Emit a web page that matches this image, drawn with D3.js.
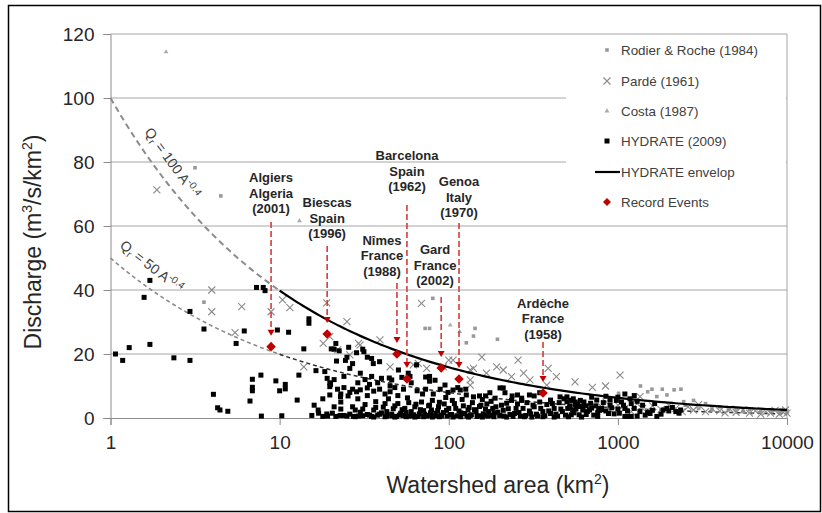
<!DOCTYPE html>
<html><head><meta charset="utf-8">
<script src="https://cdnjs.cloudflare.com/ajax/libs/d3/7.8.5/d3.min.js"></script>
<style>
body{margin:0;background:#fff;}
svg{display:block;font-family:"Liberation Sans",Arial,sans-serif;}
</style></head>
<body><svg id="c" width="822" height="513"></svg>
<script>
// ---------- data ----------
const xTicks = [1, 10, 100, 1000, 10000];
const yTicks = [0, 20, 40, 60, 80, 100, 120];
const curveCoef = [100, 50];
const curveExp = -0.4;

const hydrate = [
 [1.07,20],[1.18,18],[1.29,22],[1.58,37.7],[1.71,23],[1.71,43],[2.37,18.8],[2.95,18],[2.95,33.3],[3.57,27.8],
 [4.06,7.4],[4.44,2.5],[4.94,2.1],[4.3,3.2],[5.53,23.3],[6.18,27.2],[6.9,12.1],[6.9,8.5],[6.9,9.6],[6.68,5.3],
 [7.3,40.8],[8.0,40.8],[8.2,39.8],[7.75,13.4],[7.8,0.6],[9.5,11.6],[9.7,27.5],[10.3,0.7],[10,8.5],[10.8,9.1],
 [10.8,10.5],[11.3,26.8],[12.7,5.6],[13,13.4],[13.9,21.6],[14.9,29.6],[14.9,31],[16.4,14.8],[16.9,2.5],[18.5,14.5],
 [19.1,12.4],[19.8,9.8],[19.8,11],[19.8,7.2],[20.2,21.6],[21.5,23.3],[21.7,17.8],[22.9,6.7],[25.4,6.9],[25.6,22.1],
 [28.5,20.4],[28.5,8.2],[19.2,0.6],[22.8,0.8],[25,0.6],[27.3,0.5],[29.2,0.6],[19,1.25],
 [21,21.5],[22.5,21],[24.5,18],[25,19],[31,21.5],[31.5,20.7],[33,19],[35,18.6],[35.8,17],[39,17.6],[40,12.4],
 [44.5,12.5],[46,11.9],[50.4,15],[52.8,12.7],[57.6,14],[59,13],[64.5,16.6],[73,12.8],[77,13],[77,11.5],[83,11.8],
 [95,10.3],[106,8.75],[117,8.75],[127,7.2],[152,6.9],[165,6.9],[175,7.9],[201,9.4],[210,9.4],[215,7.9],[237,6.9],
 [255,7.2],[270,6.2],[300,7.2],[320,6.9],[345,7.9],[400,5.6],[455,6.6],[500,5.1],[560,5],[600,5.5],
 [20,10.5],[22,9],[24,9.5],[27,9],[30,8.8],[33,9.4],[36,8.4],[39,9],[42,7.5],[45,8.2],[48,9.5],[21,12],[23,7.5],
 [20.5,1.5],[21.5,0.5],[23,2.8],[24,0.8],[26,1.2],[27,3.5],[28,0.4],[30,1.8],[31,0.7],[32,4.2],[33,1.1],[35,0.5],
 [36,2.5],[37,5.1],[38,0.9],[40,1.6],[41,3.4],[43,0.6],[44,6],[46,1.2],[47,2.9],[49,0.5],[50,4.5],[52,1.5],[54,0.8],
 [55,3],[57,6.3],[58,0.6],[60,2],[62,1],[64,4.3],[66,0.5],[68,2.6],[70,7.5],[72,1.2],[74,0.6],[76,3.8],[78,1.6],
 [80,5.5],[83,0.7],[86,2.3],[88,4.9],[90,0.9],[93,1.7],[96,6.4],[98,0.6],[100,3],[104,1.1],[108,4.5],[112,0.7],
 [115,2.2],[120,5.8],[124,1.4],[128,0.6],[132,3.3],[136,1],[140,6.6],[145,2],[150,0.7],[155,4],[160,1.3],[165,2.8],
 [170,0.6],[178,5.2],[185,1.5],[190,3.5],[200,0.8],[210,2.4],[220,4.6],[230,1.1],[240,0.5],[250,3],[260,1.7],
 [270,5.5],[285,0.8],[300,2.2],[315,4],[330,1.2],[350,3],[370,0.7],[390,2.2],[410,4.5],[430,1.2],[460,2.8],
 [490,0.9],[520,3.5],[550,1.6],[580,4.2],[620,2.5],[650,1.1],[700,3.1],[760,1.8],[800,3],[850,2.2],[900,4],
 [950,1.3],[1000,2.8],[1050,5],[1100,3],[1150,0.5],[1200,0.5],[1300,0.6],[1500,1.7],[1550,1.4],[1700,0.5],
 [1850,2.5],[1950,3],[2200,2],[2350,2.5],[1000,6.5],[1100,7.5],[1200,4.5],[650,3.8],[680,2.5],
 [500,6.6],[520,3.8],[540,2.5],[560,4.2],[530,5.5],[620,3.7],[770,3],[800,2.6],[900,5.6],[1100,0.5],
 [15.5,0.8],[16,4],[17,1.5],[18,6],[18,0.5],[21,3.5],[23,5],[26,8],[28,2.5],[29,11],[24,13],[26,15.5],[30,14],
 [32,12],[34,10.5],[27,17],[29,6],
 [31,2.8],[33,7],[34,0.9],[35,13],[37,3.3],[38,11],[39,1.2],[42,4.5],[43,2],[45,10],[46,0.7],[48,3.8],[50,7],
 [51,0.9],[53,2.6],[54,9],[56,1.7],[58,4.8],[60,11],[61,0.7],[63,3.5],[65,8.5],[67,1.3],[69,5],[71,2.3],[73,9],
 [75,0.8],[77,4],[79,2.5],[81,7.5],[84,1.5],[87,3.5],[89,9],[91,0.6],[94,4.4],[97,2.4],[99,8],[102,1],[105,5.5],
 [110,3],[113,9.5],[118,1.6],[122,3.8],[126,9],[130,2.5],[134,0.8],[138,4.8],[142,2.6],[147,0.5],[152,3.6],
 [158,5.8],[162,0.9],[168,4.4],[172,2],[176,0.8],[182,3],[188,6.2],[195,1.8],[205,4],[212,0.6],[225,2.9],
 [235,5.5],[245,1.4],[255,4.4],[265,0.6],[275,3],[290,4.8],[305,1.3],[320,3.5],[335,0.6],[345,5],[360,2],
 [380,4.2],[400,1.4],[420,3],[440,0.6],[450,4.8],[470,2],[480,6],[505,3],[530,1],[545,6],[565,2.8],[590,1],
 [600,3.6],[630,5],[660,2],[690,4.6],[720,0.9],[740,3.8],[780,2.4],[820,4.8],[880,1.4],[920,3.2],[980,5.5],
 [1020,1.5],[1080,4],[1140,2.2],[1180,6],[1250,3],[1350,2],[1400,4],[1450,0.9],[1600,2.4],[1650,4.5],[1800,1.2],
 [2000,2.2],[2100,3.3],[2300,1.5],[1250,7],[1300,5.2],[700,6.5],[750,5.6],[850,6.8],
 [36,0.3],[42,0.4],[48,0.3],[56,0.4],[63,0.3],[71,0.4],[80,0.3],[88,0.4],[106,0.3],[118,0.4],[131,0.3],
 [158,0.3],[185,0.4],[220,0.3],[280,0.4],[310,0.3],[360,0.4],[420,0.3],[510,0.4],[610,0.3],[760,0.5]
];

const parde = [
 [1.88,71.3],[3.97,40],[3.97,33.2],[5.97,34.8],[5.45,26.7],[8.9,33.2],[10.4,36.9],[11.5,34.5],[19,36],[25,30.1],
 [13.9,16],[18.1,23.3],[19.8,25.4],[22,21.3],[26,19.7],[29.3,23.3],[69,35.8],[39.2,24.4],[29.9,22.8],[45,16],
 [61.7,16.6],[66,17.1],[74,15.5],[100,18.1],[106,18.1],[93,16],[134,15],[134,11.9],[140,15.5],[157,19],[167,14],
 [192,16],[210,15],[235,12.9],[257,18.1],[277,14],[302,11.9],[387,15.5],[433,12.9],[558,11.3],[380,10.3],[134,10.3],
 [707,9.6],[845,10],[1030,13.4],[1352,6.7],
 [800,3.5],[850,5],[900,2.5],[1000,4],[1100,3],[1200,2],[1300,4.5],[1400,3],[1500,2.2],[1600,3.8],[1800,2.6],
 [2000,4],[2200,3],[2400,2],[2600,3.5],[2800,2.5],[3000,4.2],[3300,2],[3600,3],[4000,2.2],[4300,1.6],[4600,2.8],
 [5000,1.8],[5500,2.5],[6000,1.5],[6500,2.2],[7000,1.2],[7500,2],[8000,1.5],[8500,2.4],[9000,1.2],[9500,1.8],
 [9800,2.5],[10000,1.5]
];

const rodier = [
 [3.16,78.2],[4.49,69.4],[3.57,36.2],[80.5,37.4],[72.5,28],[77,28],[143,28],[140,25.6],[127,23.5],[194,24.6],
 [1360,10],[1590,9],[1830,9],[2150,8.8],[2360,9],[1010,7.7],[1700,6.7],[1950,7.2],[2450,5.1],[1500,8.2],
 [2500,4],[2800,5.5],[3000,3],[3300,4.5],[3600,2.5],[4000,3.5],[4500,2.6],[5000,3],[5500,2],[6000,2.6],
 [7000,2],[8000,2.3],[9000,1.8],[10000,2.2],[9500,2.6]
];

const costa = [[2.13,114.4],[13.1,61.6],[102,29],[116,27],[3000,3.5],[5000,2.5]];

const eventNames = [
 ["Algiers","Algeria","(2001)"],["Biescas","Spain","(1996)"],["Nîmes","France","(1988)"],
 ["Barcelona","Spain","(1962)"],["Gard","France","(2002)"],["Genoa","Italy","(1970)"],["Ardèche","France","(1958)"]
];
const eventArea = [8.9, 19.1, 49.4, 56.6, 90.2, 115, 361];
const eventQ    = [22.3, 26.25, 20, 12.2, 15.6, 12.2, 7.8];
const eventLineTopQ = [61.25, 53.75, 42.2, 66.6, 37.8, 60.9, 23.75];
const eventLabelArea = [8.9, 19.1, 40.3, 56.6, 83, 115, 361];
const eventLabelQ = [73.75, 65.9, 54.1, 80.6, 51.25, 72.5, 34.4];

const legendItems = ["Rodier & Roche (1984)","Pardé (1961)","Costa (1987)","HYDRATE (2009)","HYDRATE envelop","Record Events"];

// ---------- drawing ----------
const svg = d3.select("#c");
const x = d3.scaleLog().domain([1,10000]).range([110.5,787]);
const y = d3.scaleLinear().domain([0,120]).range([418,34]);

// grid
svg.append("g").selectAll("line").data(yTicks.filter(d=>d>0)).join("line")
  .attr("x1",110.5).attr("x2",787).attr("y1",d=>y(d)).attr("y2",d=>y(d))
  .attr("stroke","#a6a6a6").attr("stroke-width",1);
svg.append("line").attr("x1",787).attr("x2",787).attr("y1",34).attr("y2",418).attr("stroke","#a6a6a6");

// axes
const yAx = svg.append("g").attr("transform","translate(110.5,0)")
  .call(d3.axisLeft(y).tickValues(yTicks).tickSize(7).tickPadding(9));
const xAx = svg.append("g").attr("transform","translate(0,418)")
  .call(d3.axisBottom(x).tickValues(xTicks).tickFormat(d3.format("d")).tickSize(7).tickPadding(11));
[yAx,xAx].forEach(g=>{
  g.select(".domain").attr("stroke","#8c8c8c");
  g.selectAll(".tick line").attr("stroke","#8c8c8c");
  g.selectAll("text").attr("font-size",19).attr("fill","#262626").attr("font-family","Liberation Sans, Arial, sans-serif");
});

// curves
const samples = d3.range(0,4.0001,0.02).map(e=>Math.pow(10,e));
const line = d3.line().x(d=>x(d[0])).y(d=>y(d[1]));
const curvePts = (c, lo, hi) => samples.filter(a=>a>=lo && a<=hi).map(a=>[a, c*Math.pow(a,curveExp)]);
svg.append("path").attr("d",line(curvePts(curveCoef[1],1,10.5))).attr("fill","none")
  .attr("stroke","#8c8c8c").attr("stroke-width",1.6).attr("stroke-dasharray","4,3");
svg.append("path").attr("d",line(curvePts(curveCoef[1],10,10000))).attr("fill","none")
  .attr("stroke","#333").attr("stroke-width",1.5).attr("stroke-dasharray","4,3");
svg.append("path").attr("d",line(curvePts(curveCoef[0],1,10.5))).attr("fill","none")
  .attr("stroke","#8c8c8c").attr("stroke-width",2).attr("stroke-dasharray","6,4");

// markers
const gPts = svg.append("g");
gPts.selectAll(".r").data(rodier).join("rect").attr("x",d=>x(d[0])-1.8).attr("y",d=>y(d[1])-1.8)
  .attr("width",3.6).attr("height",3.6).attr("fill","#999");
gPts.selectAll(".c").data(costa).join("path").attr("d",d3.symbol(d3.symbolTriangle,10))
  .attr("transform",d=>`translate(${x(d[0])},${y(d[1])})`).attr("fill","#aaa");
gPts.selectAll(".p").data(parde).join("path")
  .attr("d","M-3.5,-3.5L3.5,3.5M-3.5,3.5L3.5,-3.5")
  .attr("transform",d=>`translate(${x(d[0])},${y(d[1])})`).attr("stroke","#8a8a8a").attr("stroke-width",1.1).attr("fill","none");
gPts.selectAll(".h").data(hydrate).join("rect").attr("x",d=>x(d[0])-2.5).attr("y",d=>y(d[1])-2.5)
  .attr("width",5).attr("height",5).attr("fill","#000");

// envelope (solid)
svg.append("path").attr("d",line(curvePts(curveCoef[0],10,10000))).attr("fill","none")
  .attr("stroke","#000").attr("stroke-width",2.2);

// curve labels
function curveLabel(tx,ty,ang,coef){
  const t = svg.append("text").attr("transform",`translate(${tx},${ty}) rotate(${ang})`)
    .attr("font-size",14).attr("fill","#404040");
  t.append("tspan").text("Q");
  t.append("tspan").attr("font-size",10).attr("dy",3).text("r");
  t.append("tspan").attr("dy",-3).text(` = ${coef} A`);
  t.append("tspan").attr("font-size",10).attr("dy",-5).text(curveExp.toFixed(1));
}
curveLabel(144,132,54,curveCoef[0]);
curveLabel(119,247,38,curveCoef[1]);

// events
const red = "#c00000";
const gE = svg.append("g");
eventArea.forEach((a,i)=>{
  const cx = x(a), cy = y(eventQ[i]);
  const top = y(eventLineTopQ[i]);
  const tip = cy - 11;
  gE.append("line").attr("x1",cx).attr("x2",cx).attr("y1",top).attr("y2",tip-5)
    .attr("stroke","#d83a3a").attr("stroke-width",1.6).attr("stroke-dasharray","6,3");
  gE.append("path").attr("d",`M${cx-3.5},${tip-6}L${cx+3.5},${tip-6}L${cx},${tip}Z`).attr("fill",red);
  gE.append("path").attr("d",d3.symbol(d3.symbolDiamond2,58)()).attr("transform",`translate(${cx},${cy})`).attr("fill",red);
  const lx = x(eventLabelArea[i]), ly = y(eventLabelQ[i]);
  const t = gE.append("text").attr("x",lx).attr("y",ly).attr("text-anchor","middle")
    .attr("font-size",13).attr("font-weight","bold").attr("fill","#262626");
  eventNames[i].forEach((s,k)=>t.append("tspan").attr("x",lx).attr("dy",k?15.5:0).text(s));
});

// legend
const lg = svg.append("g");
lg.append("rect").attr("x",566).attr("y",36).attr("width",220).attr("height",178).attr("fill","#fff");
const rowY = [50,81,111,141,172,202];
legendItems.forEach((s,i)=>{
  lg.append("text").attr("x",621).attr("y",rowY[i]+5).attr("font-size",13.4).attr("fill","#404040").text(s);
});
lg.append("rect").attr("x",605.2).attr("y",rowY[0]-1.8).attr("width",3.6).attr("height",3.6).attr("fill","#999");
lg.append("path").attr("d","M-3.5,-3.5L3.5,3.5M-3.5,3.5L3.5,-3.5").attr("transform",`translate(607,${rowY[1]})`).attr("stroke","#8a8a8a").attr("stroke-width",1.1);
lg.append("path").attr("d",d3.symbol(d3.symbolTriangle,10)()).attr("transform",`translate(607,${rowY[2]})`).attr("fill","#aaa");
lg.append("rect").attr("x",604.5).attr("y",rowY[3]-2.5).attr("width",5).attr("height",5).attr("fill","#000");
lg.append("line").attr("x1",595).attr("x2",620).attr("y1",rowY[4]).attr("y2",rowY[4]).attr("stroke","#000").attr("stroke-width",2.2);
lg.append("path").attr("d",d3.symbol(d3.symbolDiamond2,40)()).attr("transform",`translate(607,${rowY[5]})`).attr("fill",red);

// axis titles
const yt = svg.append("text").attr("transform","translate(41,242) rotate(-90)").attr("text-anchor","middle")
  .attr("font-size",23).attr("fill","#262626");
yt.append("tspan").text("Discharge (m");
yt.append("tspan").attr("font-size",14).attr("dy",-9).text("3");
yt.append("tspan").attr("dy",9).text("/s/km");
yt.append("tspan").attr("font-size",14).attr("dy",-9).text("2");
yt.append("tspan").attr("dy",9).text(")");
const xt = svg.append("text").attr("x",498).attr("y",493).attr("text-anchor","middle")
  .attr("font-size",23).attr("fill","#262626");
xt.append("tspan").text("Watershed area (km");
xt.append("tspan").attr("font-size",14).attr("dy",-9).text("2");
xt.append("tspan").attr("dy",9).text(")");

// outer frame
svg.append("rect").attr("x",8.5).attr("y",5.5).attr("width",812).attr("height",506)
  .attr("fill","none").attr("stroke","#000").attr("stroke-width",1.5);
</script></body></html>
